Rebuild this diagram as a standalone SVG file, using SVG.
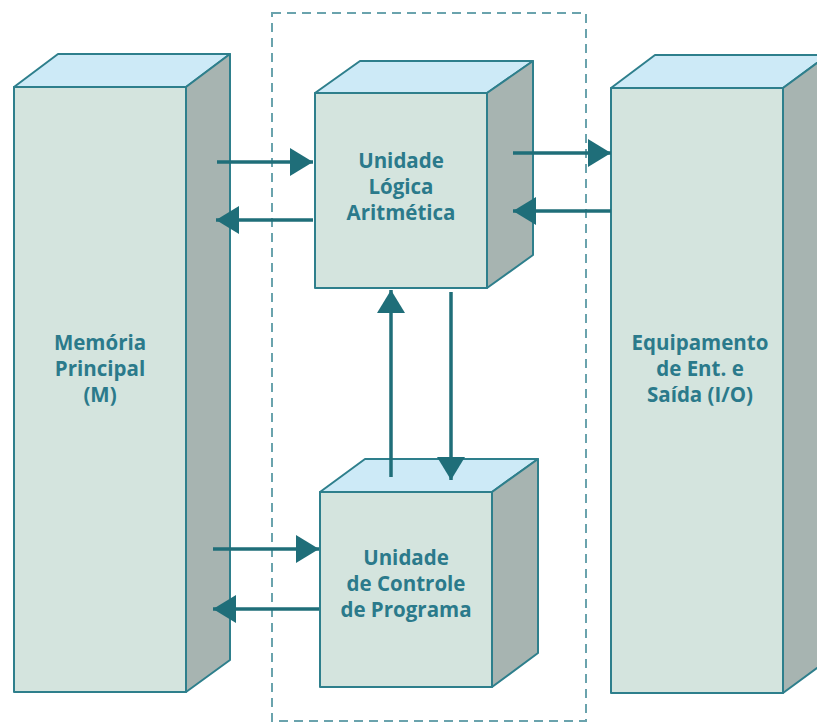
<svg xmlns="http://www.w3.org/2000/svg" width="817" height="724" viewBox="0 0 817 724">
<style>
.front{fill:#d4e4de;stroke:#2e7f8c;stroke-width:2;stroke-linejoin:round}
.top{fill:#cdeaf7;stroke:#2e7f8c;stroke-width:2;stroke-linejoin:round}
.side{fill:#a7b4b1;stroke:#2e7f8c;stroke-width:2;stroke-linejoin:round}
.lbl{font-family:"Open Sans","Noto Sans","Liberation Sans",sans-serif;font-weight:bold;font-size:20.5px;fill:#2b7a8b;text-anchor:middle}
.con{stroke:#1f6e79;stroke-width:3.5;fill:none;marker-end:url(#ah)}
.dash{fill:none;stroke:#6aa3ad;stroke-width:2;stroke-dasharray:9 6}
</style>
<defs>
<marker id="ah" markerUnits="userSpaceOnUse" markerWidth="26" markerHeight="30" refX="23" refY="14" orient="auto">
<path d="M0,0 L23,14 L0,28 z" fill="#1f6e79"/>
</marker>
</defs>
<rect class="dash" x="272" y="13" width="314" height="708"/>
<g id="memoria">
<polygon class="top" points="14,87 58,54 230,54 186,87"/>
<polygon class="side" points="186,87 230,54 230,660 186,692"/>
<rect class="front" x="14" y="87" width="172" height="605"/>
<text class="lbl" x="100" y="350">Memória</text>
<text class="lbl" x="100" y="376">Principal</text>
<text class="lbl" x="100" y="402">(M)</text>
</g>
<g id="ula">
<polygon class="top" points="315,93 360,61 533,61 487,93"/>
<polygon class="side" points="487,93 533,61 533,255 487,288"/>
<rect class="front" x="315" y="93" width="172" height="195"/>
<text class="lbl" x="401" y="168">Unidade</text>
<text class="lbl" x="401" y="194">Lógica</text>
<text class="lbl" x="401" y="220">Aritmética</text>
</g>
<g id="ucp">
<polygon class="top" points="320,492 365,459 538,459 492,492"/>
<polygon class="side" points="492,492 538,459 538,653 492,687"/>
<rect class="front" x="320" y="492" width="172" height="195"/>
<text class="lbl" x="406" y="565">Unidade</text>
<text class="lbl" x="406" y="591">de Controle</text>
<text class="lbl" x="406" y="617">de Programa</text>
</g>
<g id="io">
<polygon class="top" points="611,88 655,55 828,55 783,88"/>
<polygon class="side" points="783,88 828,55 828,660 783,693"/>
<rect class="front" x="611" y="88" width="172" height="605"/>
<text class="lbl" x="700" y="350">Equipamento</text>
<text class="lbl" x="700" y="376">de Ent. e</text>
<text class="lbl" x="700" y="402">Saída (I/O)</text>
</g>
<g id="connectors">
<line class="con" x1="217" y1="162" x2="313" y2="162"/>
<line class="con" x1="313" y1="220" x2="216" y2="220"/>
<line class="con" x1="513" y1="153" x2="611" y2="153"/>
<line class="con" x1="611" y1="211" x2="513" y2="211"/>
<line class="con" x1="391" y1="477" x2="391" y2="290"/>
<line class="con" x1="451" y1="292" x2="451" y2="480"/>
<line class="con" x1="213" y1="549" x2="319" y2="549"/>
<line class="con" x1="319" y1="609" x2="213" y2="609"/>
</g>
</svg>
